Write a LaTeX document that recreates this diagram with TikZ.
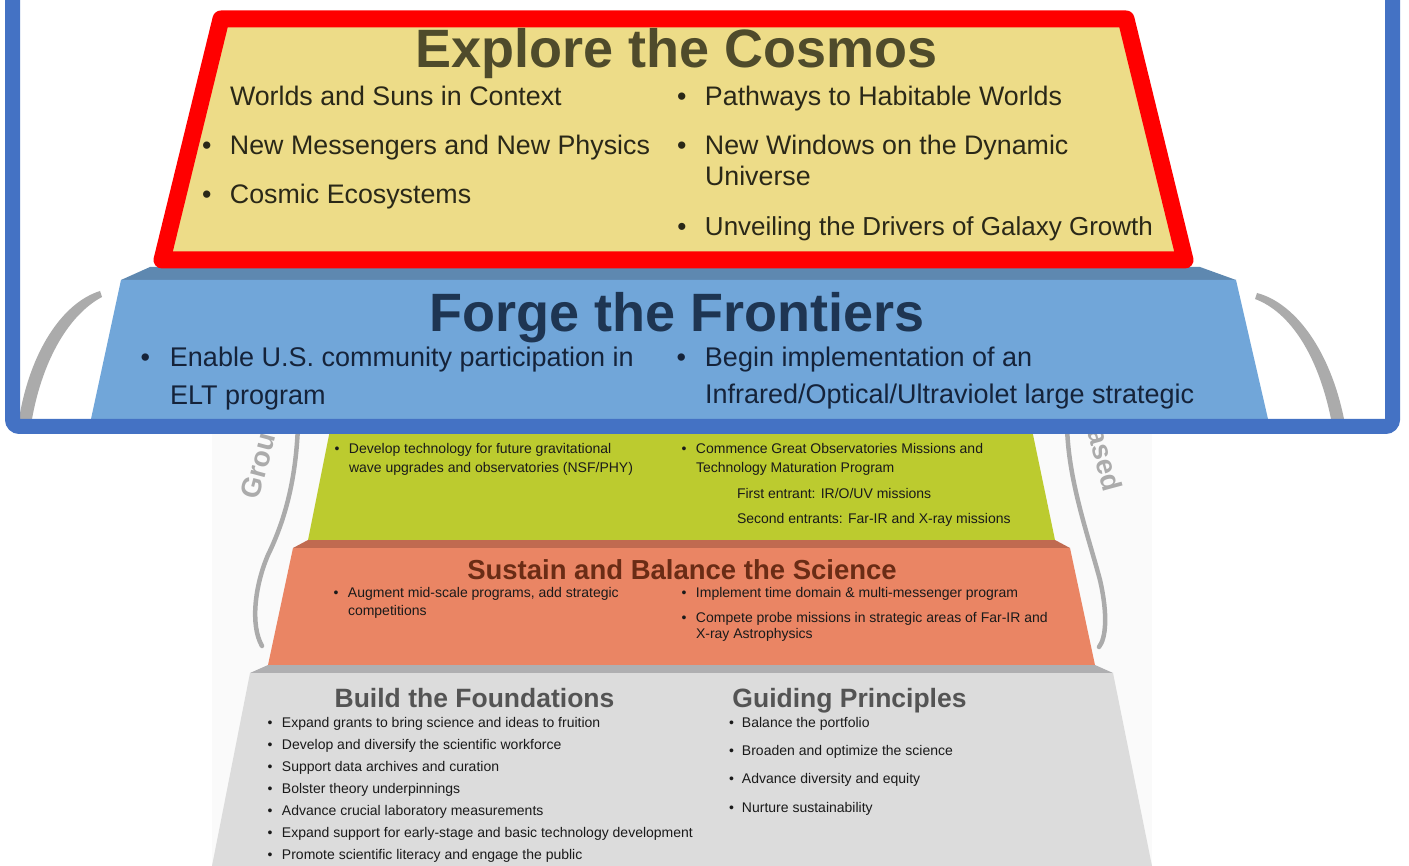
\documentclass[tikz,border=0pt]{standalone}
\usepackage{fontspec}
\setmainfont{Liberation Sans}
\definecolor{yfill}{HTML}{EDDC88}
\definecolor{rborder}{HTML}{FF0000}
\definecolor{ytitle}{HTML}{4F4B2B}
\definecolor{ytext}{HTML}{2A2818}
\definecolor{bmain}{HTML}{71A6D9}
\definecolor{bshadow}{HTML}{5E88B0}
\definecolor{btitle}{HTML}{1E3552}
\definecolor{btext}{HTML}{15233A}
\definecolor{insetblue}{HTML}{4472C4}
\definecolor{gmain}{HTML}{BCCB2F}
\definecolor{omain}{HTML}{EA8564}
\definecolor{oshadow}{HTML}{C06A50}
\definecolor{otitle}{HTML}{6A2C15}
\definecolor{fmain}{HTML}{DCDCDC}
\definecolor{fshadow}{HTML}{AFAFB1}
\definecolor{ftitle}{HTML}{545454}
\definecolor{arcgrey}{HTML}{ABABAB}
\definecolor{stext}{HTML}{1A1A1A}
\definecolor{imgbg}{HTML}{FAFAFA}
\newcommand{\fsz}[1]{\fontsize{#1}{#1}\selectfont}
\newcommand{\bu}[1]{\llap{\textbullet\hspace{#1}}}
\begin{document}
\begin{tikzpicture}[x=1pt,y=-1pt,
  lbl/.style={anchor=base west, inner sep=0pt, outer sep=0pt},
  ytit/.style={anchor=base, inner sep=0pt, font=\fsz{54}\bfseries, text=ytitle},
  ytxt/.style={lbl, font=\fsz{26.8}, text=ytext},
  btit/.style={anchor=base, inner sep=0pt, font=\fsz{54}\bfseries, text=btitle},
  btxt/.style={lbl, font=\fsz{27}, text=btext},
  stxt/.style={lbl, font=\fsz{14}, text=stext},
  otit/.style={anchor=base, inner sep=0pt, font=\fsz{27.5}\bfseries, text=otitle},
  ftit/.style={anchor=base, inner sep=0pt, font=\fsz{26.5}\bfseries, text=ftitle},
  sidetxt/.style={inner sep=0pt, font=\fsz{28}\bfseries, text=arcgrey},
  sarc/.style={draw=arcgrey, line width=4.5pt, line cap=round},
  farc/.style={fill=arcgrey}
]
\useasboundingbox (0,0) rectangle (1409,866);
\fill[white] (0,0) rectangle (1409,866);
\fill[imgbg] (212,430) rectangle (1152,866);

% ---- lower part of the pyramid ----
\fill[gmain] (331,425) -- (1031,425) -- (1055,540) -- (308,540) -- cycle;
\fill[oshadow] (308,540) -- (1055,540) -- (1070,548) -- (293,548) -- cycle;
\fill[omain] (293,548) -- (1070,548) -- (1095,665) -- (268,665) -- cycle;
\fill[fshadow] (268,665) -- (1095,665) -- (1113,673) -- (250,673) -- cycle;
\fill[fmain] (250,673) -- (1113,673) -- (1152,866) -- (212,866) -- cycle;

% side arcs (lower)
\draw[sarc] (298,425) .. controls (296,480) and (285,520) .. (268,555) .. controls (255,585) and (250,625) .. (262,646);
\draw[sarc] (1067,425) .. controls (1068,480) and (1088,535) .. (1100,580) .. controls (1108,615) and (1106,638) .. (1099,647);
\node[sidetxt, anchor=base east, rotate=75] (grd) at (276,436) {Grou};
\node[sidetxt, anchor=base west, rotate=-75] (spc) at (1087,431) {ased};

% green texts
\node[stxt] (g1) at (349,454) {\bu{9.5pt}Develop technology for future gravitational};
\node[stxt] (g1b) at (349,473) {wave upgrades and observatories (NSF/PHY)};
\node[stxt] (g2) at (696,454) {\bu{9.5pt}Commence Great Observatories Missions and};
\node[stxt] (g2b) at (696,473) {Technology Maturation Program};
\node[stxt] (g3) at (737,498) {First entrant: IR/O/UV missions};
\node[stxt] (g4) at (737,523) {Second entrants: Far-IR and X-ray missions};

% orange texts
\node[otit] (otl) at (682,579) {Sustain and Balance the Science};
\node[stxt] (o1) at (348,597) {\bu{9.5pt}Augment mid-scale programs, add strategic};
\node[stxt] (o1b) at (348,615) {competitions};
\node[stxt] (o2) at (696,597) {\bu{9.5pt}Implement time domain \& multi-messenger program};
\node[stxt] (o3) at (696,622) {\bu{9.5pt}Compete probe missions in strategic areas of Far-IR and};
\node[stxt] (o3b) at (696,638) {X-ray Astrophysics};

% grey texts
\node[ftit] (ft1) at (474.5,707) {Build the Foundations};
\node[ftit] (ft2) at (849.5,707) {Guiding Principles};
\node[stxt] (f1) at (282,727) {\bu{9.5pt}Expand grants to bring science and ideas to fruition};
\node[stxt] (f2) at (282,749) {\bu{9.5pt}Develop and diversify the scientific workforce};
\node[stxt] (f3) at (282,771) {\bu{9.5pt}Support data archives and curation};
\node[stxt] (f4) at (282,793) {\bu{9.5pt}Bolster theory underpinnings};
\node[stxt] (f5) at (282,815) {\bu{9.5pt}Advance crucial laboratory measurements};
\node[stxt] (f6) at (282,837) {\bu{9.5pt}Expand support for early-stage and basic technology development};
\node[stxt] (f7) at (282,859) {\bu{9.5pt}Promote scientific literacy and engage the public};
\node[stxt] (p1) at (742,727) {\bu{8pt}Balance the portfolio};
\node[stxt] (p2) at (742,755) {\bu{8pt}Broaden and optimize the science};
\node[stxt] (p3) at (742,783) {\bu{8pt}Advance diversity and equity};
\node[stxt] (p4) at (742,812) {\bu{8pt}Nurture sustainability};

% ---- zoomed inset ----
\fill[white] (12,-30) rectangle (1393,427);
\fill[farc] (100,291) .. controls (62,303) and (30,352) .. (19,419) -- (32,419) .. controls (43,358) and (70,314) .. (102,297) -- cycle;
\fill[farc] (1257,293) .. controls (1295,303) and (1330,350) .. (1344,419) -- (1331,419) .. controls (1318,355) and (1290,312) .. (1255,299) -- cycle;

\fill[bshadow] (150,267) -- (1200,267) -- (1236,280) -- (121,280) -- cycle;
\fill[bmain] (121,280) -- (1236,280) -- (1268,419) -- (91,419) -- cycle;

\draw[rborder, line width=17pt, line join=round, fill=yfill] (221,19) -- (1126,19) -- (1185,260) -- (162,260) -- cycle;

\node[ytit] (ytl) at (677,68) {Explore the Cosmos};
\node[ytxt] (y1) at (230,106) {Worlds and Suns in Context};
\node[ytxt] (y2) at (230,155) {\bu{18.5pt}New Messengers and New Physics};
\node[ytxt] (y3) at (230,204) {\bu{18.5pt}Cosmic Ecosystems};
\node[ytxt] (y4) at (705,106) {\bu{18.5pt}Pathways to Habitable Worlds};
\node[ytxt] (y5) at (705,155) {\bu{18.5pt}New Windows on the Dynamic};
\node[ytxt] (y5b) at (705,186) {Universe};
\node[ytxt, font=\fsz{26}] (y6) at (705,236) {\bu{18.5pt}Unveiling the Drivers of Galaxy Growth};

\node[btit] (btl) at (677.5,332) {Forge the Frontiers};
\node[btxt] (b1) at (170,367) {\bu{20pt}Enable U.S. community participation in};
\node[btxt] (b1b) at (170,405) {ELT program};
\node[btxt] (b2) at (705,367) {\bu{19pt}Begin implementation of an};
\node[btxt] (b2b) at (705,404) {Infrared/Optical/Ultraviolet large strategic};

\draw[insetblue, line width=15pt, rounded corners=7pt] (12.5,-40) rectangle (1392.5,426.5);
\end{tikzpicture}
\end{document}
